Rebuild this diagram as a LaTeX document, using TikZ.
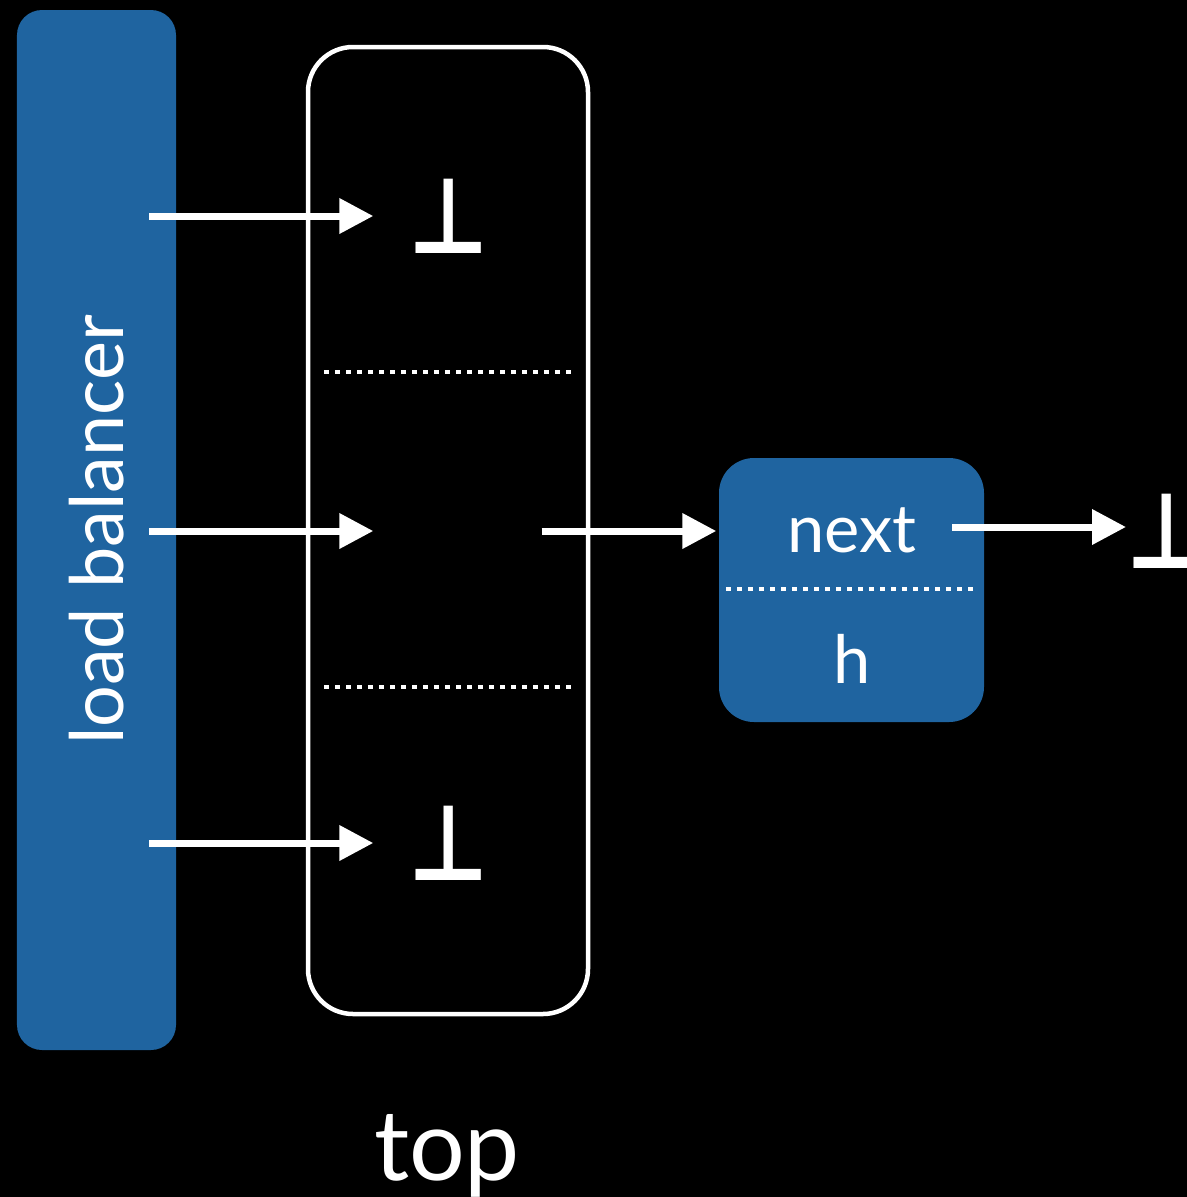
\documentclass[tikz,border=0pt]{standalone}
\usepackage{fontspec}
\setmainfont{Lato}
\newfontfamily\symfont{DejaVu Sans}
\usetikzlibrary{arrows.meta}
\definecolor{lbblue}{RGB}{31,100,160}

\begin{document}
\begin{tikzpicture}[
    lbbox/.style={fill=lbblue, rounded corners=0.25cm, minimum width=10.4cm, minimum height=1.59cm, inner sep=0, text=white, font=\fontsize{21}{24}\selectfont},
    arraybox/.style={draw=white, line width=0.045cm, rounded corners=0.45cm, minimum width=2.80cm, minimum height=9.67cm, inner sep=0},
    cellbox/.style={fill=lbblue, rounded corners=0.35cm, minimum width=2.65cm, minimum height=2.64cm, inner sep=0},
    perp/.style={inner sep=0, text=white, font=\symfont\bfseries\fontsize{25}{25}\selectfont, yscale=1.2},
    slot/.style={perp, minimum width=1.5cm, minimum height=0.8cm},
    celltext/.style={text=white, font=\fontsize{19}{22}\selectfont, anchor=base},
    arrow/.style={-{Triangle[length=0.34cm,width=0.34cm]}, white, line width=0.07cm},
    dotline/.style={white, line width=0.045cm, dash pattern=on 0.045cm off 0.065cm}
]
    % Background
    \fill[black] (0,0) rectangle (11.87,-11.97);
    \useasboundingbox (0,0) rectangle (11.87,-11.97);

    % Load balancer
    \node[lbbox, rotate=90] (lb) at (0.965,-5.30) {load balancer};

    % Top array
    \node[arraybox] (array) at (4.48,-5.305) {};
    \draw[dotline] (3.24,-3.72) -- (5.74,-3.72);
    \draw[dotline] (3.24,-6.87) -- (5.74,-6.87);
    \node[celltext] (toplabel) at (4.47,-11.80) {\fontsize{28}{32}\selectfont top};

    % Slots
    \node[slot] (s1) at (4.49,-2.16) {⊥};
    \node[slot] (s2) at (4.49,-5.31) {};
    \node[slot] (s3) at (4.49,-8.43) {⊥};

    % Node
    \node[cellbox] (cell) at (8.515,-5.90) {};
    \node[celltext] (next) at (8.52,-5.52) {next};
    \node[celltext] (h) at (8.52,-6.83) {h};
    \draw[dotline] (7.26,-5.89) -- (9.77,-5.89);
    \node[perp, anchor=west] (nil) at (11.26,-5.31) {⊥};

    % Arrows
    \foreach \i/\y in {1/2.16, 2/5.31, 3/8.43} {
        \coordinate (in\i) at (1.49,-\y);
        \draw[arrow] (in\i) -- (s\i.west);
    }
    \draw[arrow, shorten <=0.17cm, shorten >=0.02cm] (s2.east) -- (s2.east -| cell.west);
    \coordinate (nextout) at (9.52,-5.27);
    \draw[arrow] (nextout) -- (nextout -| nil.west);

\end{tikzpicture}
\end{document}
